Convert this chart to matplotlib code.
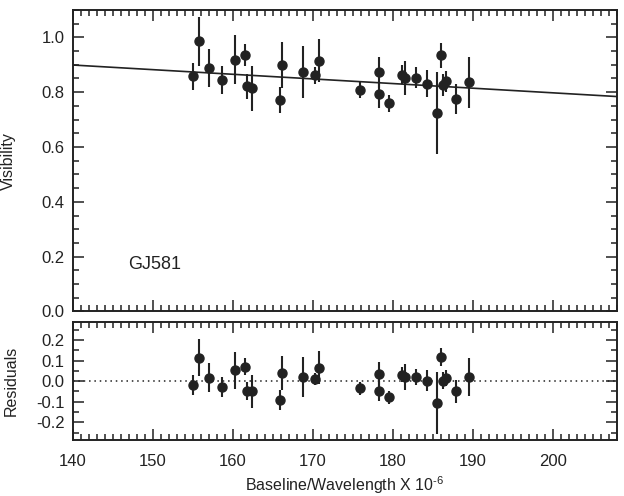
import matplotlib
matplotlib.use("Agg")
import matplotlib.pyplot as plt
from matplotlib.ticker import MultipleLocator

plt.rcParams['font.family'] = ['Liberation Sans', 'DejaVu Sans']
plt.rcParams['mathtext.fontset'] = 'custom'
plt.rcParams['mathtext.rm'] = 'Liberation Sans'
plt.rcParams['mathtext.it'] = 'Liberation Sans'

# Data
baseline = [155.0, 155.8, 157.0, 158.6, 160.3, 161.5, 161.8, 162.4, 165.9, 166.1,
            168.7, 170.3, 170.8, 175.9, 178.2, 178.3, 179.5, 181.1, 181.5, 182.9,
            184.2, 185.5, 186.0, 186.2, 186.6, 187.9, 189.5]
visibility = [0.858, 0.985, 0.888, 0.845, 0.918, 0.934, 0.821, 0.815, 0.772, 0.898,
              0.874, 0.861, 0.915, 0.809, 0.872, 0.793, 0.759, 0.864, 0.852, 0.852,
              0.831, 0.724, 0.934, 0.827, 0.839, 0.775, 0.836]
vis_err = [0.049, 0.090, 0.070, 0.050, 0.090, 0.040, 0.045, 0.082, 0.047, 0.084,
           0.096, 0.030, 0.079, 0.032, 0.058, 0.049, 0.032, 0.036, 0.062, 0.038,
           0.050, 0.151, 0.045, 0.041, 0.038, 0.055, 0.093]
residuals = [-0.019, 0.113, 0.016, -0.028, 0.053, 0.070, -0.047, -0.050, -0.092, 0.040,
             0.021, 0.011, 0.066, -0.034, 0.036, -0.047, -0.079, 0.032, 0.019, 0.019,
             0.003, -0.105, 0.117, 0.003, 0.016, -0.049, 0.019]
fit_x = [140.0, 208.0]
fit_y = [0.899, 0.784]

star_name = "GJ581"
col = "#222222"

fig = plt.figure(figsize=(6.24, 4.96), dpi=100)
ax1 = fig.add_axes([0.117, 0.372, 0.872, 0.608])
ax2 = fig.add_axes([0.117, 0.113, 0.872, 0.237])

ax1.errorbar(baseline, visibility, yerr=vis_err, fmt='o', color=col, ms=6.5,
             elinewidth=1.5, capsize=0, zorder=3)
ax1.plot(fit_x, fit_y, color=col, lw=1.2, zorder=2)
ax1.text(146.9, 0.17, star_name, fontsize=13, color=col, va='center', ha='left')
ax1.set_xlim(140, 208)
ax1.set_ylim(0, 1.1)
ax1.set_yticks([0.0, 0.2, 0.4, 0.6, 0.8, 1.0])
ax1.set_yticklabels(["0.0", "0.2", "0.4", "0.6", "0.8", "1.0"])
ax1.yaxis.set_minor_locator(MultipleLocator(0.05))
ax1.tick_params(axis='x', labelbottom=False)
ax1.set_ylabel("Visibility", fontsize=11.5, color=col)
ax1.yaxis.set_label_coords(-0.105, 0.5)

ax2.errorbar(baseline, residuals, yerr=vis_err, fmt='o', color=col, ms=6.5,
             elinewidth=1.5, capsize=0, zorder=3)
ax2.axhline(0, color=col, lw=1.1, ls=(0, (1, 2.5)), zorder=1)
ax2.set_xlim(140, 208)
ax2.set_ylim(-0.285, 0.285)
ax2.set_yticks([-0.2, -0.1, 0.0, 0.1, 0.2])
ax2.set_yticklabels(["-0.2", "-0.1", "0.0", "0.1", "0.2"])
ax2.yaxis.set_minor_locator(MultipleLocator(0.05))
ax2.set_ylabel("Residuals", fontsize=11.5, color=col)
ax2.yaxis.set_label_coords(-0.10, 0.5)
ax2.set_xlabel("Baseline/Wavelength X 10$^{\\text{-6}}$", fontsize=11.5, color=col,
               labelpad=4)

for ax in (ax1, ax2):
    ax.xaxis.set_major_locator(MultipleLocator(10))
    ax.xaxis.set_minor_locator(MultipleLocator(1))
    ax.tick_params(which='both', direction='in', top=True, right=True, color=col,
                   labelcolor=col, labelsize=12, width=1.1)
    ax.tick_params(which='major', length=8)
    ax.tick_params(which='minor', length=4)
    ax.tick_params(axis='x', pad=10)
    ax.tick_params(axis='y', pad=6)
    for s in ax.spines.values():
        s.set_linewidth(1.4)
        s.set_color(col)

fig.savefig("out.png", dpi=100)
